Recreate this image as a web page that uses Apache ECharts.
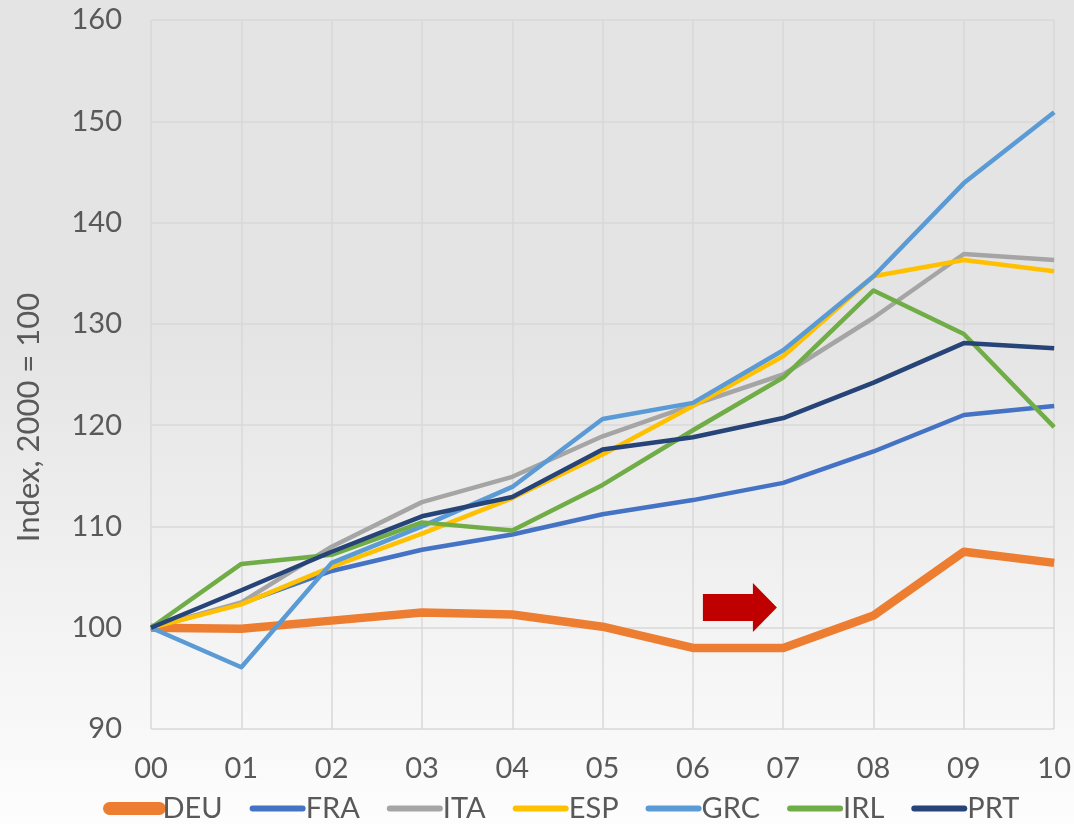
<!DOCTYPE html>
<html>
<head>
<meta charset="utf-8">
<script src="https://cdn.jsdelivr.net/npm/echarts@6/dist/echarts.min.js"></script>
<style>
  html, body { margin: 0; padding: 0; }
  #chart { width: 1074px; height: 824px; }
</style>
</head>
<body>
<div id="chart"></div>
<script>
const years = ['00', '01', '02', '03', '04', '05', '06', '07', '08', '09', '10'];
const DEU = [100, 99.9, 100.7, 101.5, 101.3, 100.1, 98.0, 98.0, 101.2, 107.5, 106.4];
const FRA = [100, 102.4, 105.6, 107.7, 109.2, 111.2, 112.6, 114.3, 117.4, 121.0, 121.9];
const ITA = [100, 102.5, 108.0, 112.4, 114.9, 118.9, 122.0, 125.0, 130.6, 136.9, 136.3];
const ESP = [100, 102.3, 106.0, 109.3, 112.8, 117.1, 121.9, 126.8, 134.7, 136.3, 135.2];
const GRC = [100, 96.1, 106.4, 110.0, 113.9, 120.6, 122.2, 127.4, 134.7, 143.9, 150.9];
const IRL = [100, 106.3, 107.2, 110.4, 109.6, 114.1, 119.5, 124.7, 133.3, 129.0, 119.8];
const PRT = [100, 103.7, 107.5, 111.0, 112.9, 117.6, 118.8, 120.7, 124.2, 128.1, 127.6];
const yTicks = [90, 100, 110, 120, 130, 140, 150, 160];
const arrowAt = ['06', 102];

const FONT = 'Lato';
const TXT = '#595959';

const seriesDefs = [
  { name: 'DEU', data: DEU, color: '#ED7D31', width: 8.5 },
  { name: 'FRA', data: FRA, color: '#4472C4', width: 4.5 },
  { name: 'ITA', data: ITA, color: '#A5A5A5', width: 4.5 },
  { name: 'ESP', data: ESP, color: '#FFC000', width: 4.5 },
  { name: 'GRC', data: GRC, color: '#5B9BD5', width: 4.5 },
  { name: 'IRL', data: IRL, color: '#70AD47', width: 4.5 },
  { name: 'PRT', data: PRT, color: '#264478', width: 4.5 }
];

const chart = echarts.init(document.getElementById('chart'), null, { renderer: 'canvas' });

const series = seriesDefs.map((s, i) => {
  const o = {
    name: s.name,
    type: 'line',
    data: s.data,
    symbol: 'none',
    showSymbol: false,
    smooth: false,
    color: s.color,
    lineStyle: { color: s.color, width: s.width, cap: 'butt', join: 'round' },
    itemStyle: { color: s.color },
    z: 2 + i,
    emphasis: { disabled: true }
  };
  if (s.name === 'DEU') {
    o.markPoint = {
      silent: true,
      symbol: 'path://M0,11 L50,11 L50,0 L74,24.5 L50,49 L50,38 L0,38 Z',
      symbolSize: [74, 49],
      symbolOffset: [47, 0],
      itemStyle: { color: '#C00000' },
      label: { show: false },
      data: [{ coord: arrowAt }]
    };
  }
  return o;
});

chart.setOption({
  animation: false,
  backgroundColor: {
    type: 'linear', x: 0, y: 0, x2: 0, y2: 1,
    colorStops: [
      { offset: 0, color: '#e4e4e4' },
      { offset: 0.4, color: '#e4e4e4' },
      { offset: 1, color: '#fdfdfd' }
    ]
  },
  textStyle: { fontFamily: FONT },
  grid: { left: 151, right: 19, top: 20, bottom: 95, containLabel: false },
  legend: {
    left: 98,
    top: 789,
    itemWidth: 50,
    itemHeight: 14,
    itemGap: 27,
    textStyle: { fontFamily: FONT, fontSize: 29, color: TXT, padding: [0, 0, 0, -2] },
    data: seriesDefs.map(s => ({
      name: s.name,
      itemStyle: { opacity: 0 },
      lineStyle: { width: s.name === 'DEU' ? 13 : 6, cap: 'round', color: s.color }
    }))
  },
  xAxis: {
    type: 'category',
    data: years,
    boundaryGap: false,
    axisLine: { show: false },
    axisTick: { show: false },
    axisLabel: { color: TXT, fontFamily: FONT, fontSize: 29, margin: 25 },
    splitLine: { show: true, lineStyle: { color: '#d9d9d9', width: 1.5 } }
  },
  yAxis: {
    type: 'value',
    min: yTicks[0],
    max: yTicks[yTicks.length - 1],
    interval: 10,
    name: 'Index, 2000 = 100',
    nameLocation: 'middle',
    nameRotate: 90,
    nameGap: 107,
    nameTextStyle: { color: TXT, fontFamily: FONT, fontSize: 31, padding: [0, 86, 0, 0] },
    axisLine: { show: false },
    axisTick: { show: false },
    axisLabel: { color: TXT, fontFamily: FONT, fontSize: 29, margin: 29 },
    splitLine: { show: true, lineStyle: { color: '#d9d9d9', width: 1.5 } }
  },
  series: series
});
</script>
</body>
</html>
